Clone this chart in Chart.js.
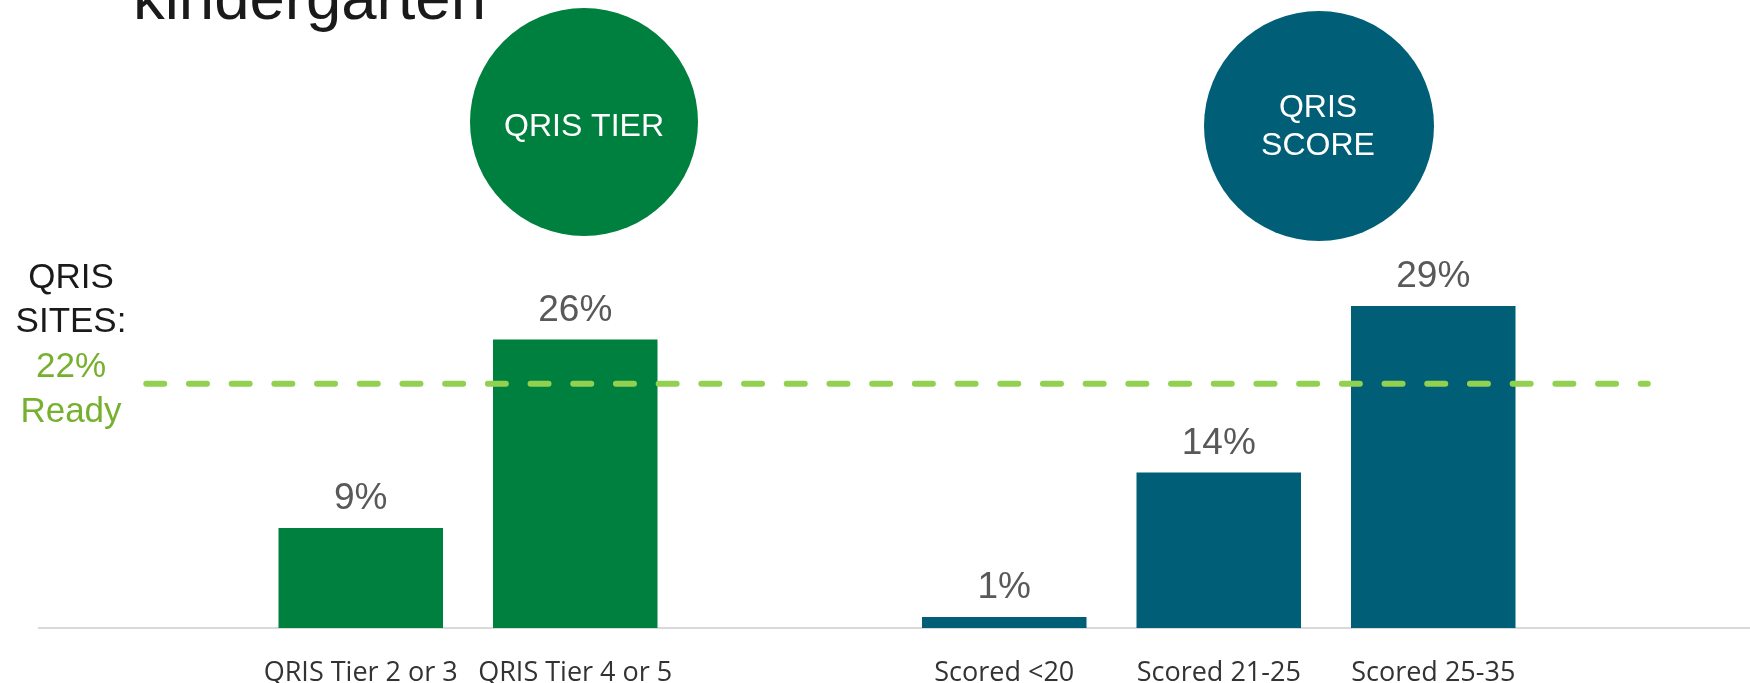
<!DOCTYPE html>
<html>
<head>
<meta charset="utf-8">
<script src="https://cdn.jsdelivr.net/npm/chart.js@4.4.1/dist/chart.umd.min.js"></script>
<style>
  html, body { margin: 0; padding: 0; background: #ffffff; overflow: hidden; }
  #wrap { width: 1755px; height: 683px; position: relative; }
</style>
</head>
<body>
<div id="wrap"><canvas id="grafico"></canvas></div>
<script>
// categorias (vazias = espaço entre os grupos)
const categorias = ['', 'QRIS Tier 2 or 3', 'QRIS Tier 4 or 5', '', 'Scored <20', 'Scored 21-25', 'Scored 25-35', ''];
const valoresTier = [null, 9, 26, null, null, null, null, null];
const valoresScore = [null, null, null, null, 1, 14, 29, null];
const linhaProntos = [22, 22, 22, 22, 22, 22, 22, 22];

const corVerde = '#00803E';
const corAzul = '#005F77';
const corLinha = '#92D050';
const corTextoVerde = '#77B02F';

// textos decorativos
const decoracoes = {
  id: 'decoracoes',
  afterDraw(chart) {
    const c = chart.ctx;
    c.save();

    // titulo cortado no topo
    c.fillStyle = '#1a1a1a';
    c.font = '63.5px "Liberation Sans", Arial, sans-serif';
    c.textAlign = 'left';
    c.textBaseline = 'alphabetic';
    c.fillText('kindergarten', 133, 19);

    // circulos
    c.fillStyle = corVerde;
    c.beginPath();
    c.arc(584, 122, 114, 0, Math.PI * 2);
    c.fill();
    c.fillStyle = corAzul;
    c.beginPath();
    c.arc(1319, 126, 115, 0, Math.PI * 2);
    c.fill();

    c.fillStyle = '#ffffff';
    c.font = '32px "Liberation Sans", Arial, sans-serif';
    c.textAlign = 'center';
    c.textBaseline = 'middle';
    c.fillText('QRIS TIER', 584, 127);
    c.fillText('QRIS', 1318, 108);
    c.fillText('SCORE', 1318, 146);

    // rotulo da esquerda
    c.font = '35px "Liberation Sans", Arial, sans-serif';
    c.fillStyle = '#1a1a1a';
    c.fillText('QRIS', 71, 278);
    c.fillText('SITES:', 71, 322);
    c.fillStyle = corTextoVerde;
    c.fillText('22%', 71, 367);
    c.fillText('Ready', 71, 412);

    // valores em cima das barras
    c.font = '37px "Liberation Sans", Arial, sans-serif';
    c.fillStyle = '#595959';
    [0, 1].forEach(d => {
      const meta = chart.getDatasetMeta(d);
      const dados = chart.data.datasets[d].data;
      meta.data.forEach((barra, i) => {
        if (dados[i] == null) return;
        c.fillText(dados[i] + '%', barra.x, barra.y - 29);
      });
    });

    c.restore();
  }
};

const ctx = document.getElementById('grafico');

new Chart(ctx, {
  type: 'bar',
  data: {
    labels: categorias,
    datasets: [
      {
        label: 'QRIS Tier',
        data: valoresTier,
        backgroundColor: corVerde,
        categoryPercentage: 1,
        barPercentage: 0.767,
        grouped: false,
        order: 2
      },
      {
        label: 'QRIS Score',
        data: valoresScore,
        backgroundColor: corAzul,
        categoryPercentage: 1,
        barPercentage: 0.767,
        grouped: false,
        order: 2
      },
      {
        type: 'line',
        label: 'QRIS Sites Ready',
        data: linhaProntos,
        borderColor: corLinha,
        borderWidth: 6,
        borderDash: [18, 24.7],
        borderCapStyle: 'round',
        pointRadius: 0,
        fill: false,
        order: 1
      }
    ]
  },
  options: {
    responsive: true,
    maintainAspectRatio: false,
    animation: false,
    layout: { padding: { top: 184, left: 39, right: 0, bottom: 0 } },
    plugins: {
      legend: { display: false },
      tooltip: { enabled: false }
    },
    scales: {
      x: {
        grid: { display: false, drawTicks: false },
        border: { display: true, color: '#D9D9D9', width: 2 },
        ticks: {
          color: '#333333',
          font: { family: '"Open Sans", sans-serif', size: 27 },
          padding: 29,
          autoSkip: false,
          maxRotation: 0
        },
        afterFit(scale) { scale.height = 55; }
      },
      y: {
        display: false,
        min: 0,
        max: 40
      }
    }
  },
  plugins: [decoracoes]
});
</script>
</body>
</html>
